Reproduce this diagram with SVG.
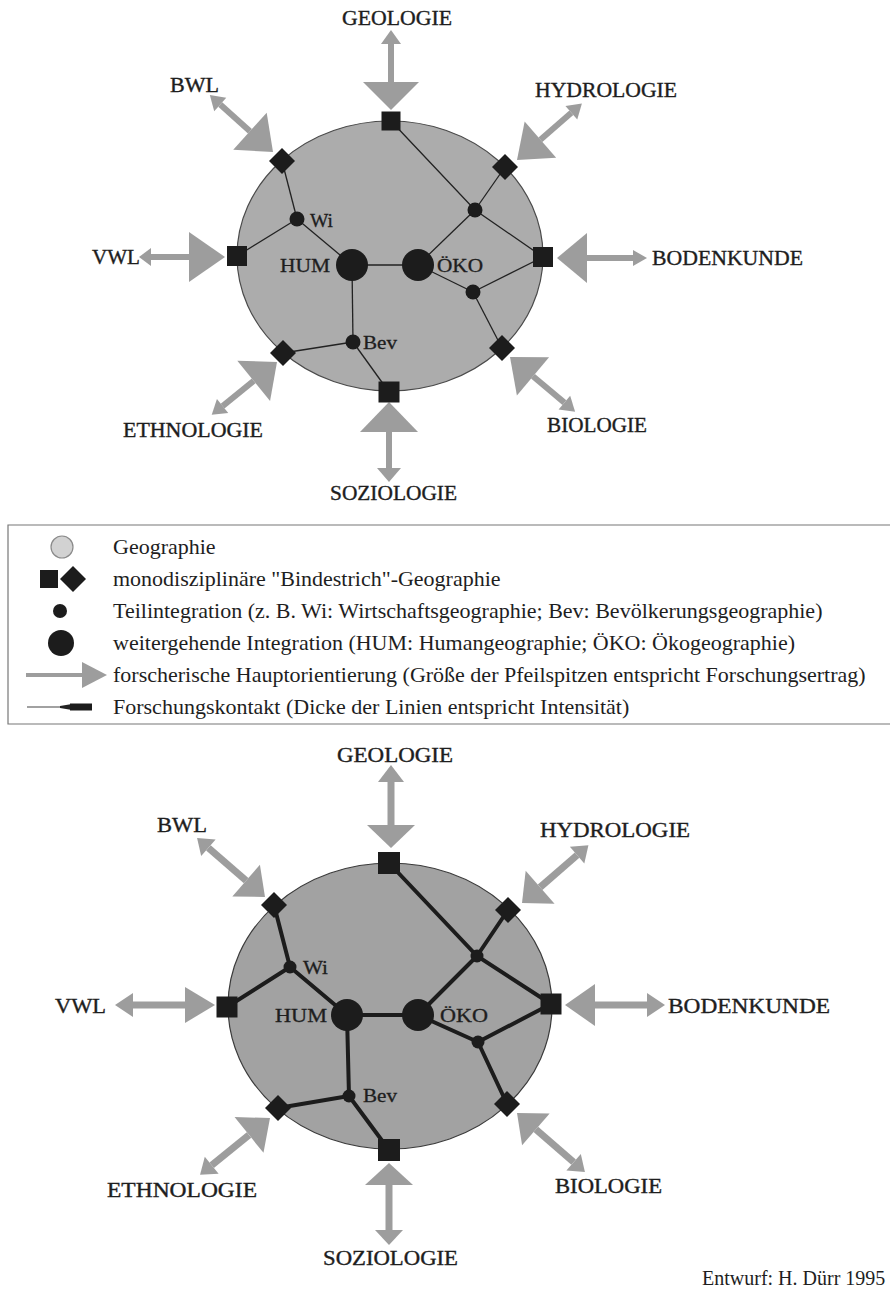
<svg xmlns="http://www.w3.org/2000/svg" width="890" height="1301" viewBox="0 0 890 1301">
<style>
text{font-family:"Liberation Serif","Times New Roman",serif;fill:#1e1e1e}
.lab{font-size:20px;stroke:#1e1e1e;stroke-width:0.35}
.sm{font-size:18px;stroke:#1e1e1e;stroke-width:0.3}
.leg{font-size:22px}
.geo{fill:#acacac;stroke:#4a4a4a;stroke-width:1.2}
.geo2{fill:#a2a2a2;stroke:#3a3a3a;stroke-width:1.2}
.ah{fill:#9d9d9d}
.sh{stroke:#9d9d9d;fill:none}
.n{fill:#1c1c1c}
.c1{stroke:#222;stroke-width:1.3;fill:none}
.c2{stroke:#1c1c1c;stroke-width:4;fill:none;stroke-linecap:round}
.frame{stroke:#777;stroke-width:1.2;fill:none}
</style>
<rect width="890" height="1301" fill="#fff"/>

<!-- ============ TOP DIAGRAM ============ -->
<g id="top-geographie"><ellipse class="geo" cx="390" cy="256" rx="153" ry="135"/></g>

<g id="top-arrows">
  <g transform="translate(391,110) rotate(90)"><line class="sh" stroke-width="6" x1="-66" y1="0" x2="-28" y2="0"/><polygon class="ah" points="0,0 -28,-28 -28,28"/><polygon class="ah" points="-80,0 -66,-10 -66,10"/></g>
  <g transform="translate(273,152) rotate(42)"><line class="sh" stroke-width="6" x1="-71" y1="0" x2="-31" y2="0"/><polygon class="ah" points="0,0 -31,-25 -31,25"/><polygon class="ah" points="-85,0 -71,-9 -71,9"/></g>
  <g transform="translate(517,160) rotate(139)"><line class="sh" stroke-width="6" x1="-72" y1="0" x2="-31" y2="0"/><polygon class="ah" points="0,0 -31,-24 -31,24"/><polygon class="ah" points="-86,0 -72,-9 -72,9"/></g>
  <g transform="translate(225,257)"><line class="sh" stroke-width="6" x1="-74" y1="0" x2="-36" y2="0"/><polygon class="ah" points="0,0 -36,-25 -36,25"/><polygon class="ah" points="-86,0 -74,-9 -74,9"/></g>
  <g transform="translate(557,258) rotate(180)"><line class="sh" stroke-width="6" x1="-76" y1="0" x2="-30" y2="0"/><polygon class="ah" points="0,0 -30,-25 -30,25"/><polygon class="ah" points="-90,0 -76,-8 -76,8"/></g>
  <g transform="translate(277,362) rotate(-39)"><line class="sh" stroke-width="6" x1="-70" y1="0" x2="-30" y2="0"/><polygon class="ah" points="0,0 -30,-26 -30,26"/><polygon class="ah" points="-84,0 -70,-9 -70,9"/></g>
  <g transform="translate(389,402) rotate(-90)"><line class="sh" stroke-width="6" x1="-66" y1="0" x2="-30" y2="0"/><polygon class="ah" points="0,0 -30,-29 -30,29"/><polygon class="ah" points="-80,0 -66,-12 -66,12"/></g>
  <g transform="translate(510,357) rotate(-140)"><line class="sh" stroke-width="6" x1="-71" y1="0" x2="-30" y2="0"/><polygon class="ah" points="0,0 -30,-25 -30,25"/><polygon class="ah" points="-85,0 -71,-9 -71,9"/></g>
</g>

<g id="top-connectors">
  <polyline class="c1" points="391,121 475,210 543,257"/>
  <line class="c1" x1="505" y1="167" x2="475" y2="210"/>
  <line class="c1" x1="475" y1="210" x2="418" y2="265"/>
  <line class="c1" x1="282" y1="161" x2="297" y2="219"/>
  <line class="c1" x1="297" y1="219" x2="237" y2="256"/>
  <line class="c1" x1="297" y1="219" x2="352" y2="265"/>
  <line class="c1" x1="352" y1="265" x2="418" y2="265"/>
  <line class="c1" x1="418" y1="265" x2="473" y2="292"/>
  <line class="c1" x1="473" y1="292" x2="543" y2="257"/>
  <line class="c1" x1="473" y1="292" x2="502" y2="348"/>
  <line class="c1" x1="352" y1="265" x2="353" y2="342"/>
  <line class="c1" x1="353" y1="342" x2="283" y2="353"/>
  <line class="c1" x1="353" y1="342" x2="389" y2="392"/>
</g>

<g id="top-nodes">
  <g id="t-geologie-node"><rect class="n" x="381.5" y="111.5" width="19" height="19"/></g>
  <g id="t-bwl-node"><polygon class="n" points="282,148 295,161 282,174 269,161"/></g>
  <g id="t-hydro-node"><polygon class="n" points="505,154 518,167 505,180 492,167"/></g>
  <g id="t-vwl-node"><rect class="n" x="227" y="246" width="20" height="20"/></g>
  <g id="t-boden-node"><rect class="n" x="533" y="247" width="20" height="20"/></g>
  <g id="t-bio-node"><polygon class="n" points="502,335 515,348 502,361 489,348"/></g>
  <g id="t-ethno-node"><polygon class="n" points="283,340 296,353 283,366 270,353"/></g>
  <g id="t-sozio-node"><rect class="n" x="378.5" y="381.5" width="21" height="21"/></g>
  <g id="t-wi"><circle class="n" cx="297" cy="219" r="7.5"/><text class="sm" x="310" y="227" textLength="23" lengthAdjust="spacingAndGlyphs">Wi</text></g>
  <g id="t-tr"><circle class="n" cx="475" cy="210" r="7.5"/></g>
  <g id="t-br"><circle class="n" cx="473" cy="292" r="7.5"/></g>
  <g id="t-bev"><circle class="n" cx="353" cy="342" r="7.5"/><text class="sm" x="363" y="349" textLength="34" lengthAdjust="spacingAndGlyphs">Bev</text></g>
  <g id="t-hum"><circle class="n" cx="352" cy="265" r="16"/><text class="sm" x="280" y="272" textLength="50" lengthAdjust="spacingAndGlyphs">HUM</text></g>
  <g id="t-oeko"><circle class="n" cx="418" cy="265" r="16"/><text class="sm" x="437" y="272" textLength="46" lengthAdjust="spacingAndGlyphs">ÖKO</text></g>
</g>

<g id="top-labels">
  <text class="lab" x="342" y="25" textLength="110" lengthAdjust="spacingAndGlyphs">GEOLOGIE</text>
  <text class="lab" x="170" y="92" textLength="49" lengthAdjust="spacingAndGlyphs">BWL</text>
  <text class="lab" x="535" y="97" textLength="142" lengthAdjust="spacingAndGlyphs">HYDROLOGIE</text>
  <text class="lab" x="92" y="264" textLength="48" lengthAdjust="spacingAndGlyphs">VWL</text>
  <text class="lab" x="652" y="265" textLength="151" lengthAdjust="spacingAndGlyphs">BODENKUNDE</text>
  <text class="lab" x="123" y="437" textLength="140" lengthAdjust="spacingAndGlyphs">ETHNOLOGIE</text>
  <text class="lab" x="547" y="432" textLength="100" lengthAdjust="spacingAndGlyphs">BIOLOGIE</text>
  <text class="lab" x="330" y="500" textLength="127" lengthAdjust="spacingAndGlyphs">SOZIOLOGIE</text>
</g>

<!-- ============ LEGEND ============ -->
<g id="legend">
  <polyline class="frame" points="890,525 8,525 8,724 890,724"/>
  <g id="leg-geographie"><circle cx="62" cy="547" r="11" fill="#d2d2d2" stroke="#8a8a8a" stroke-width="1.2"/><text class="leg" x="113" y="554">Geographie</text></g>
  <g id="leg-bindestrich"><rect class="n" x="40" y="570" width="18" height="18"/><polygon class="n" points="73,566 86,579 73,592 60,579"/><text class="leg" x="113" y="586">monodisziplinäre "Bindestrich"-Geographie</text></g>
  <g id="leg-teil"><circle class="n" cx="60" cy="611" r="7"/><text class="leg" x="113" y="618">Teilintegration (z. B. Wi: Wirtschaftsgeographie; Bev: Bevölkerungsgeographie)</text></g>
  <g id="leg-weiter"><circle class="n" cx="61" cy="643" r="13"/><text class="leg" x="113" y="650">weitergehende Integration (HUM: Humangeographie; ÖKO: Ökogeographie)</text></g>
  <g id="leg-pfeil"><line class="sh" stroke-width="4" x1="26" y1="675" x2="82" y2="675"/><polygon class="ah" points="107,675 82,662 82,688"/><text class="leg" x="113" y="682">forscherische Hauptorientierung (Größe der Pfeilspitzen entspricht Forschungsertrag)</text></g>
  <g id="leg-kontakt"><line x1="27" y1="707" x2="60" y2="707" stroke="#444" stroke-width="1.2"/><polygon points="60,706 72,704 72,710 60,708" fill="#222"/><rect x="70" y="703.5" width="22" height="7" fill="#1c1c1c"/><text class="leg" x="113" y="714">Forschungskontakt (Dicke der Linien entspricht Intensität)</text></g>
</g>

<!-- ============ BOTTOM DIAGRAM ============ -->
<g id="bottom-geographie"><ellipse class="geo2" cx="390" cy="1006" rx="162" ry="143"/></g>

<g id="bottom-arrows">
  <g transform="translate(391,848) rotate(90)"><line class="sh" stroke-width="7" x1="-66" y1="0" x2="-23" y2="0"/><polygon class="ah" points="0,0 -23,-24 -23,24"/><polygon class="ah" points="-83,0 -66,-13 -66,13"/></g>
  <g transform="translate(265,897) rotate(41)"><line class="sh" stroke-width="7" x1="-75" y1="0" x2="-25" y2="0"/><polygon class="ah" points="0,0 -25,-21 -25,21"/><polygon class="ah" points="-90,0 -75,-11 -75,11"/></g>
  <g transform="translate(522,903) rotate(139)"><line class="sh" stroke-width="7" x1="-73" y1="0" x2="-24" y2="0"/><polygon class="ah" points="0,0 -24,-22 -24,22"/><polygon class="ah" points="-88,0 -73,-11 -73,11"/></g>
  <g transform="translate(215,1005)"><line class="sh" stroke-width="7" x1="-82" y1="0" x2="-30" y2="0"/><polygon class="ah" points="0,0 -30,-18 -30,18"/><polygon class="ah" points="-100,0 -82,-12 -82,12"/></g>
  <g transform="translate(565,1005) rotate(180)"><line class="sh" stroke-width="7" x1="-82" y1="0" x2="-30" y2="0"/><polygon class="ah" points="0,0 -30,-21 -30,21"/><polygon class="ah" points="-100,0 -82,-12 -82,12"/></g>
  <g transform="translate(270,1118) rotate(-39)"><line class="sh" stroke-width="7" x1="-75" y1="0" x2="-27" y2="0"/><polygon class="ah" points="0,0 -27,-23 -27,23"/><polygon class="ah" points="-90,0 -75,-11 -75,11"/></g>
  <g transform="translate(389,1163) rotate(-90)"><line class="sh" stroke-width="7" x1="-67" y1="0" x2="-22" y2="0"/><polygon class="ah" points="0,0 -22,-24 -22,24"/><polygon class="ah" points="-82,0 -67,-14 -67,14"/></g>
  <g transform="translate(517,1113) rotate(-139)"><line class="sh" stroke-width="7" x1="-75" y1="0" x2="-25" y2="0"/><polygon class="ah" points="0,0 -25,-21 -25,21"/><polygon class="ah" points="-90,0 -75,-11 -75,11"/></g>
</g>

<g id="bottom-connectors">
  <polyline class="c2" points="389,863 477,956 551,1004"/>
  <line class="c2" x1="508" y1="910" x2="477" y2="956"/>
  <line class="c2" x1="477" y1="956" x2="418" y2="1015"/>
  <line class="c2" x1="274" y1="905" x2="290" y2="967"/>
  <line class="c2" x1="290" y1="967" x2="227" y2="1007"/>
  <line class="c2" x1="290" y1="967" x2="347" y2="1015"/>
  <line class="c2" x1="347" y1="1015" x2="418" y2="1015" stroke-width="9"/>
  <line class="c2" x1="418" y1="1015" x2="478" y2="1042"/>
  <line class="c2" x1="478" y1="1042" x2="551" y2="1004"/>
  <line class="c2" x1="478" y1="1042" x2="507" y2="1104"/>
  <line class="c2" x1="347" y1="1015" x2="349" y2="1096"/>
  <line class="c2" x1="349" y1="1096" x2="278" y2="1108"/>
  <line class="c2" x1="349" y1="1096" x2="389" y2="1150"/>
</g>

<g id="bottom-nodes">
  <g id="b-geologie-node"><rect class="n" x="378" y="852" width="22" height="22"/></g>
  <g id="b-bwl-node"><polygon class="n" points="274,892 287,905 274,918 261,905"/></g>
  <g id="b-hydro-node"><polygon class="n" points="508,897 521,910 508,923 495,910"/></g>
  <g id="b-vwl-node"><rect class="n" x="216.5" y="996.5" width="21" height="21"/></g>
  <g id="b-boden-node"><rect class="n" x="540.5" y="993.5" width="21" height="21"/></g>
  <g id="b-bio-node"><polygon class="n" points="507,1091 520,1104 507,1117 494,1104"/></g>
  <g id="b-ethno-node"><polygon class="n" points="278,1095 291,1108 278,1121 265,1108"/></g>
  <g id="b-sozio-node"><rect class="n" x="378" y="1139" width="22" height="22"/></g>
  <g id="b-wi"><circle class="n" cx="290" cy="967" r="6.5"/><text class="sm" x="303" y="974" textLength="25" lengthAdjust="spacingAndGlyphs">Wi</text></g>
  <g id="b-tr"><circle class="n" cx="477" cy="956" r="6.5"/></g>
  <g id="b-br"><circle class="n" cx="478" cy="1042" r="6.5"/></g>
  <g id="b-bev"><circle class="n" cx="349" cy="1096" r="6.5"/><text class="sm" x="363" y="1102" textLength="34" lengthAdjust="spacingAndGlyphs">Bev</text></g>
  <g id="b-hum"><circle class="n" cx="347" cy="1015" r="16"/><text class="sm" x="275" y="1022" textLength="52" lengthAdjust="spacingAndGlyphs">HUM</text></g>
  <g id="b-oeko"><circle class="n" cx="418" cy="1015" r="16"/><text class="sm" x="440" y="1022" textLength="48" lengthAdjust="spacingAndGlyphs">ÖKO</text></g>
</g>

<g id="bottom-labels">
  <text class="lab" x="337" y="762" textLength="116" lengthAdjust="spacingAndGlyphs">GEOLOGIE</text>
  <text class="lab" x="157" y="832" textLength="50" lengthAdjust="spacingAndGlyphs">BWL</text>
  <text class="lab" x="540" y="837" textLength="150" lengthAdjust="spacingAndGlyphs">HYDROLOGIE</text>
  <text class="lab" x="55" y="1013" textLength="51" lengthAdjust="spacingAndGlyphs">VWL</text>
  <text class="lab" x="668" y="1013" textLength="162" lengthAdjust="spacingAndGlyphs">BODENKUNDE</text>
  <text class="lab" x="107" y="1197" textLength="150" lengthAdjust="spacingAndGlyphs">ETHNOLOGIE</text>
  <text class="lab" x="555" y="1193" textLength="107" lengthAdjust="spacingAndGlyphs">BIOLOGIE</text>
  <text class="lab" x="323" y="1265" textLength="135" lengthAdjust="spacingAndGlyphs">SOZIOLOGIE</text>
</g>

<g id="credit"><text x="702" y="1285" font-size="20">Entwurf: H. Dürr 1995</text></g>
</svg>
